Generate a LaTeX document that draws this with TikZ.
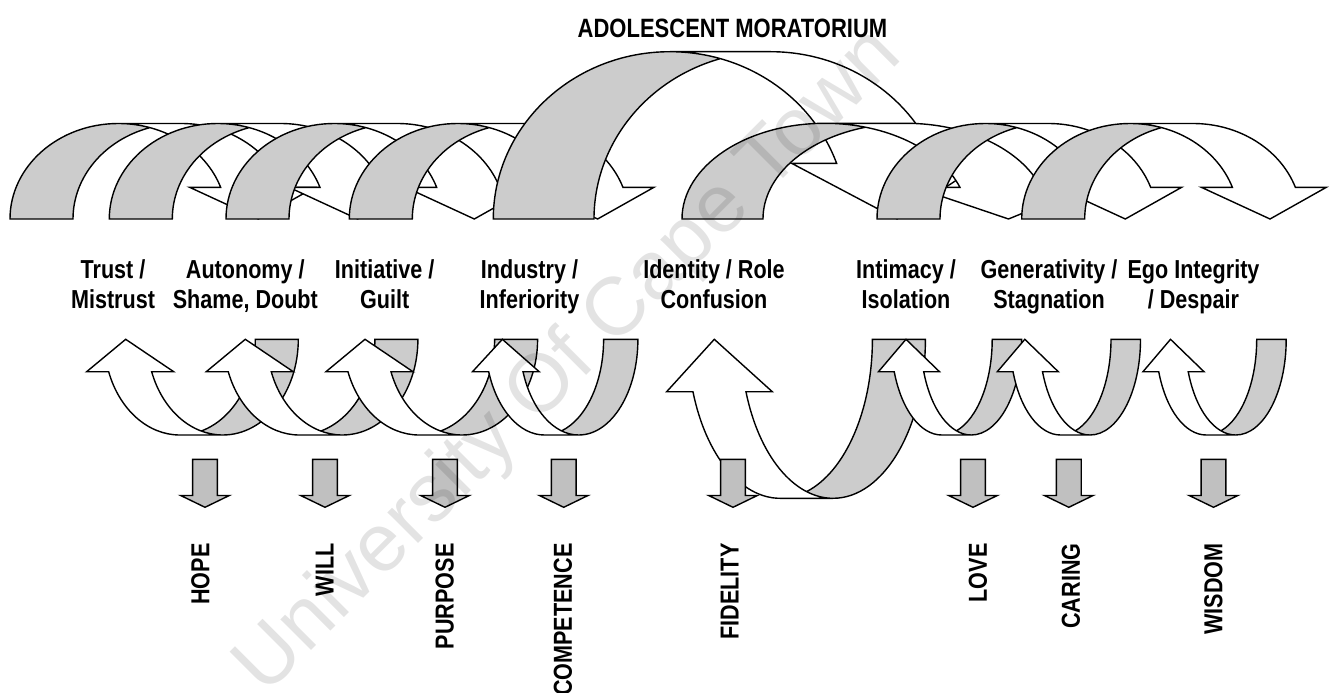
\documentclass[tikz,border=0pt]{standalone}
\usepackage{fontspec}
\newfontfamily\narrowfont{Liberation Sans}[FakeStretch=0.83]
\newfontfamily\wmfont{Liberation Sans}
\definecolor{bandgray}{HTML}{CCCCCC}
\definecolor{blockgray}{HTML}{C0C0C0}
\tikzset{
  outline/.style={draw=black, line width=1.4pt, line join=miter},
  stagelabel/.style={font=\narrowfont\bfseries\fontsize{26}{28}\selectfont, anchor=base, inner sep=0pt},
  virtue/.style={font=\narrowfont\bfseries\fontsize{26}{28}\selectfont, rotate=90, anchor=base east, inner sep=0pt},
  titlelabel/.style={font=\narrowfont\bfseries\fontsize{26.5}{28}\selectfont, anchor=base, inner sep=0pt},
  blockarrow/.style={draw=black, line width=1.4pt, fill=blockgray, line join=miter},
}
% Curved band arrow bending down to the right.
% #1 left, #2 top, #3 width, #4 height, #5 band thickness, #6 head width, #7 head length
\newcommand{\curvedarrow}[7]{%
  \pgfmathsetmacro{\caL}{#1}%
  \pgfmathsetmacro{\caT}{#2}%
  \pgfmathsetmacro{\caW}{#3}%
  \pgfmathsetmacro{\caH}{#4}%
  \pgfmathsetmacro{\caTh}{#5}%
  \pgfmathsetmacro{\caAw}{#6}%
  \pgfmathsetmacro{\caAh}{#7}%
  \pgfmathsetmacro{\caB}{\caT+\caH}%
  \pgfmathsetmacro{\caR}{\caW/2-(\caTh+\caAw)/4}%
  \pgfmathsetmacro{\caCi}{\caL+\caR}%
  \pgfmathsetmacro{\caCii}{\caCi+\caTh}%
  \pgfmathsetmacro{\caPhi}{asin(\caAh/\caH)}%
  \pgfmathsetmacro{\caDx}{\caR*cos(\caPhi)}%
  \pgfmathsetmacro{\caY}{\caB-\caAh}%
  \pgfmathsetmacro{\caXin}{\caCi+\caDx}%
  \pgfmathsetmacro{\caXout}{\caCii+\caDx}%
  \pgfmathsetmacro{\caDh}{(\caAw-\caTh)/2}%
  \pgfmathsetmacro{\caTip}{\caL+\caW-\caAw/2}%
  \pgfmathsetmacro{\caAl}{acos(\caTh/(2*\caR))}%
  \pgfmathsetmacro{\caIx}{\caCi+\caTh/2}%
  \pgfmathsetmacro{\caIy}{\caB-\caH*sin(\caAl)}%
  \pgfmathsetmacro{\caE}{360-\caPhi}%
  \fill[white] (\caTip,\caB) -- (\caXin-\caDh,\caY) -- (\caXin,\caY)
     arc[start angle=\caE, end angle=270, x radius=\caR, y radius=\caH]
     -- (\caCii,\caT)
     arc[start angle=270, end angle=\caE, x radius=\caR, y radius=\caH]
     -- (\caXout+\caDh,\caY) -- cycle;
  \fill[bandgray] (\caCi,\caT)
     arc[start angle=270, end angle=180, x radius=\caR, y radius=\caH]
     -- (\caL+\caTh,\caB)
     arc[start angle=180, end angle=180+\caAl, x radius=\caR, y radius=\caH]
     arc[start angle=360-\caAl, end angle=270, x radius=\caR, y radius=\caH]
     -- cycle;
  \draw[outline] (\caIx,\caIy)
     arc[start angle=180+\caAl, end angle=180, x radius=\caR, y radius=\caH]
     -- (\caL,\caB)
     arc[start angle=180, end angle=270, x radius=\caR, y radius=\caH]
     -- (\caCii,\caT)
     arc[start angle=270, end angle=\caE, x radius=\caR, y radius=\caH]
     -- (\caXout+\caDh,\caY) -- (\caTip,\caB) -- (\caXin-\caDh,\caY) -- (\caXin,\caY)
     arc[start angle=\caE, end angle=270, x radius=\caR, y radius=\caH];
}
% The same band turned half round: it rises on the left to a head pointing up.
\newcommand{\curvedup}[7]{%
  \pgfmathsetmacro{\cuX}{#1+#3/2}%
  \pgfmathsetmacro{\cuY}{#2+#4/2}%
  \begin{scope}[rotate around={180:(\cuX,\cuY)}]
    \curvedarrow{#1}{#2}{#3}{#4}{#5}{#6}{#7}
  \end{scope}%
}
% Short block arrow pointing down, centred on x = #1
\newcommand{\blockdown}[1]{%
  \draw[blockarrow] (#1-12.4,459.3) -- (#1+12.4,459.3) -- (#1+12.4,495.5) -- (#1+24.3,495.5)
    -- (#1,507.3) -- (#1-24.3,495.5) -- (#1-12.4,495.5) -- cycle;
}
\begin{document}
\begin{tikzpicture}[x=1pt,y=-1pt]
\useasboundingbox (0,0) rectangle (1334,693);

% upper row: stages passing on to the next one
\curvedarrow{10}{123.5}{310.8}{95.5}{63}{125}{31.7}
\curvedarrow{109.3}{123.5}{310.8}{95.5}{63}{125}{31.7}
\curvedarrow{226}{123.5}{310.8}{95.5}{63}{125}{31.7}
\curvedarrow{349.3}{123.5}{310.8}{95.5}{63}{125}{31.7}
\curvedarrow{493.3}{51.7}{499.1}{167.3}{100.7}{190.7}{55.7}
\curvedarrow{682}{123.3}{412}{95.7}{81}{171}{31.7}
\curvedarrow{877}{123.5}{310.8}{95.5}{63}{125}{31.7}
\curvedarrow{1021.7}{123.5}{310.8}{95.5}{63}{125}{31.7}

% lower row: loops returning to each stage
\curvedup{82.2}{339.3}{216.1}{95.7}{43}{87}{32.4}
\curvedup{201.8}{339.3}{216.1}{95.7}{43}{87}{32.4}
\curvedup{321.5}{339.3}{216.1}{95.7}{43}{87}{32.4}
\curvedup{469}{339.3}{168.9}{95.7}{34.3}{66.7}{32.4}
\curvedup{661.5}{339.3}{263.9}{159}{53}{105.6}{52.4}
\curvedup{875.5}{339.3}{146.2}{95.7}{29.5}{61}{32.4}
\curvedup{994.3}{339.3}{146.2}{95.7}{29.5}{61}{32.4}
\curvedup{1140}{339.3}{146.2}{95.7}{29.5}{61}{32.4}

% virtues
\blockdown{205}
\blockdown{325}
\blockdown{445}
\blockdown{563.7}
\blockdown{733}
\blockdown{973}
\blockdown{1068.8}
\blockdown{1213.5}

\node[titlelabel] (title) at (732.5,37.3) {ADOLESCENT MORATORIUM};

\node[stagelabel] (s1a) at (113,278.5) {Trust /};
\node[stagelabel] (s1b) at (113,308.3) {Mistrust};
\node[stagelabel] (s2a) at (245.3,278.5) {Autonomy /};
\node[stagelabel] (s2b) at (245.3,308.3) {Shame, Doubt};
\node[stagelabel] (s3a) at (384.7,278.5) {Initiative /};
\node[stagelabel] (s3b) at (384.7,308.3) {Guilt};
\node[stagelabel] (s4a) at (529.5,278.5) {Industry /};
\node[stagelabel] (s4b) at (529.5,308.3) {Inferiority};
\node[stagelabel] (s5a) at (714,278.5) {Identity / Role};
\node[stagelabel] (s5b) at (714,308.3) {Confusion};
\node[stagelabel] (s6a) at (906,278.5) {Intimacy /};
\node[stagelabel] (s6b) at (906,308.3) {Isolation};
\node[stagelabel] (s7a) at (1049,278.5) {Generativity /};
\node[stagelabel] (s7b) at (1049,308.3) {Stagnation};
\node[stagelabel] (s8a) at (1193.5,278.5) {Ego Integrity};
\node[stagelabel] (s8b) at (1193.5,308.3) {/ Despair};

\node[virtue] (v1) at (209.3,543.3) {HOPE};
\node[virtue] (v2) at (333.5,543.3) {WILL};
\node[virtue] (v3) at (453.6,543.3) {PURPOSE};
\node[virtue] (v4) at (571.8,543.3) {COMPETENCE};
\node[virtue] (v5) at (738.6,543.3) {FIDELITY};
\node[virtue] (v6) at (986.9,543.3) {LOVE};
\node[virtue] (v7) at (1079.9,543.3) {CARING};
\node[virtue] (v8) at (1222.3,543.3) {WISDOM};

% watermark
\node[font=\wmfont\fontsize{82}{82}\selectfont, text=black, opacity=0.11, rotate=45, inner sep=0pt] (wm) at (570,362) {University Of Cape Town};
\end{tikzpicture}
\end{document}
